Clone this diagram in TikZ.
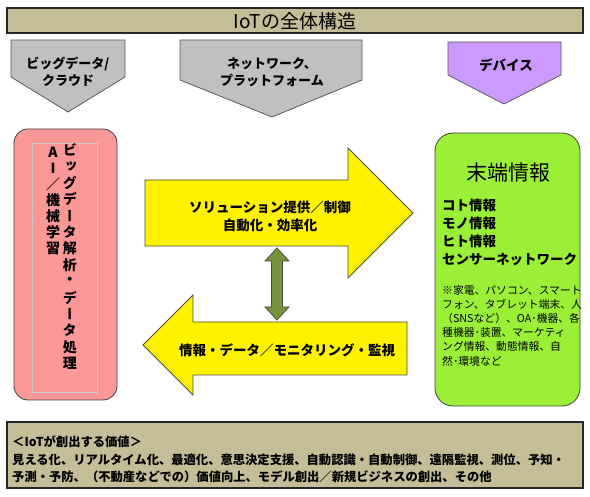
\documentclass[tikz,border=0pt]{standalone}
\usepackage{fontspec}
\setmainfont{Noto Sans CJK JP}
\newfontfamily\vjp{Noto Sans CJK JP}[RawFeature={+vert}]
\usetikzlibrary{positioning}

\definecolor{tan}{RGB}{196,189,151}
\definecolor{tagGray}{RGB}{192,192,192}
\definecolor{tagPurple}{RGB}{204,153,255}
\definecolor{boxPink}{RGB}{250,152,152}
\definecolor{boxGreen}{RGB}{155,240,55}
\definecolor{arrowOlive}{RGB}{119,147,60}

\tikzset{
  band/.style={draw=black!85,line width=1.5pt,fill=tan},
  tag/.style={draw=black!65,line width=0.8pt},
  tagtext/.style={font=\bfseries\fontsize{13}{17}\selectfont,align=center,inner sep=0pt},
  flow/.style={draw=black!70,line width=0.8pt,fill=yellow},
  flowtext/.style={font=\bfseries\fontsize{13.5}{18}\selectfont,align=center,inner sep=0pt},
  vchar/.style={font=\vjp\bfseries\fontsize{14}{14}\selectfont,inner sep=0pt},
  itemtext/.style={font=\bfseries\fontsize{13.5}{13.5}\selectfont,anchor=west,inner sep=0pt},
  notetext/.style={font=\fontsize{10.8}{10.8}\selectfont,anchor=west,inner sep=0pt},
  valtext/.style={font=\bfseries\fontsize{12.3}{12.3}\selectfont,anchor=west,inner sep=0pt}
}

\begin{document}
\begin{tikzpicture}[x=1pt,y=-1pt]
\useasboundingbox (0,0) rectangle (590,497);

% title bar
\draw[band] (7,8) rectangle (583,33);
\node[font=\fontsize{19}{19}\selectfont,inner sep=0pt] (T) at (295,21) {IoTの全体構造};

% layer tags
\draw[tag,fill=tagGray] (11,40) -- (125,40) -- (125,77) -- (68,112) -- (11,77) -- cycle;
\node[tagtext] (A) at (68,72) {ビッグデータ/\\クラウド};
\draw[tag,fill=tagGray] (180,40) -- (362,40) -- (362,80) -- (272,117) -- (180,80) -- cycle;
\node[tagtext] (B) at (272,72) {ネットワーク、\\プラットフォーム};
\draw[tag,fill=tagPurple] (448,42) -- (561,42) -- (561,75) -- (504,104) -- (448,75) -- cycle;
\node[tagtext,font=\bfseries\fontsize{13.5}{17}\selectfont] (C) at (506,65) {デバイス};

% big data box
\draw[draw=black!75,line width=0.8pt,fill=boxPink,rounded corners=14pt] (14,129) rectangle (117,400);
\draw[draw=black!20,line width=0.8pt] (32,143) rectangle (97,392);
\foreach \c [count=\i] in {ビ,ッ,グ,デ,ー,タ,解,析,・,デ,ー,タ,処,理}
  \node[vchar] (r\i) at (70,{150+16.4*(\i-1)}) {\c};
\foreach \c [count=\i] in {A,I,／,機,械,学,習}
  \node[vchar] (l\i) at (53,{152+16*(\i-1)}) {\c};

% device box
\draw[draw=black!75,line width=0.8pt,fill=boxGreen,rounded corners=18pt] (435,133) rectangle (580,406);
\node[font=\fontsize{21}{21}\selectfont,inner sep=0pt] (E) at (508,173) {末端情報};
\foreach \t [count=\i] in {コト情報,モノ情報,ヒト情報,センサーネットワーク}
  \node[itemtext] (g\i) at (442,{205+18.3*(\i-1)}) {\t};
\foreach \t [count=\i] in {{※家電、パソコン、スマート},{フォン、タブレット端末、人},{（SNSなど）、OA･機器、各},{種機器･装置、マーケティ},{ング情報、動態情報、自},{然･環境など}}
  \node[notetext] (n\i) at (442,{290+14.2*(\i-1)}) {\t};

% flows
\draw[flow] (145,180) -- (348,180) -- (348,148) -- (413,213) -- (348,278) -- (348,246) -- (145,246) -- cycle;
\node[flowtext] (F) at (270,216) {ソリューション提供／制御\\自動化・効率化};
\draw[flow] (407,322) -- (193,322) -- (193,295) -- (143,345) -- (193,395) -- (193,375) -- (407,375) -- cycle;
\node[flowtext] (G) at (287,350) {情報・データ／モニタリング・監視};
\draw[draw=black!70,line width=0.8pt,fill=arrowOlive] (277,248) -- (289,261) -- (282.5,261) -- (282.5,307) -- (289,307)
  -- (277,320) -- (265,307) -- (271.5,307) -- (271.5,261) -- (265,261) -- cycle;

% value box
\draw[band] (7,422) rectangle (583,488);
\node[valtext] (v1) at (12,442) {＜IoTが創出する価値＞};
\node[valtext] (v2) at (12,460) {見える化、リアルタイム化、最適化、意思決定支援、自動認識・自動制御、遠隔監視、測位、予知・};
\node[valtext] (v3) at (12,477) {予測・予防、（不動産などでの）価値向上、モデル創出／新規ビジネスの創出、その他};
\end{tikzpicture}
\end{document}
